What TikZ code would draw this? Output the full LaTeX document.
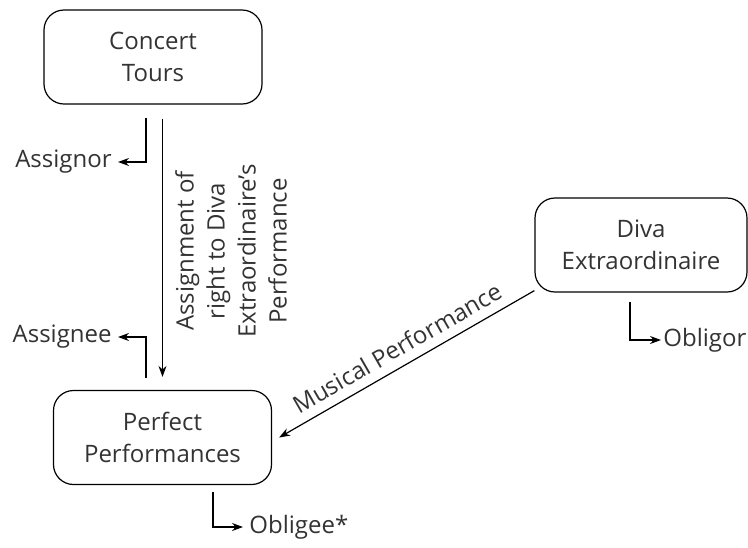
\documentclass[tikz,border=0pt]{standalone}
\usepackage{fontspec}
\setmainfont{Open Sans}
\usetikzlibrary{arrows.meta}
\definecolor{inkgray}{gray}{0.2}

\begin{document}
\begin{tikzpicture}[x=0.5pt, y=-0.5pt,
  party/.style={draw, line width=0.6pt, rounded corners=10pt, minimum width=109pt,
    minimum height=47pt, align=center, text=inkgray, font=\fontsize{12}{16}\selectfont},
  role/.style={text=inkgray, inner ysep=1.5pt, inner xsep=3pt, font=\fontsize{12}{15.5}\selectfont},
  arr/.style={-{Stealth[length=5.5pt,width=4pt]}, line width=0.6pt}]
  \useasboundingbox (0,0) rectangle (748,547);
  % the three parties
  \node[party] (tours) at (153,57) {Concert\\Tours};
  \node[party] (perfect) at (162.5,437.5) {Perfect\\Performances};
  \node[party, minimum width=106pt] (diva) at (641,245) {Diva\\Extraordinaire};
  % assignment
  \draw[arr] ([yshift=-7pt]tours.south -| perfect.north) -- ([yshift=6.5pt]perfect.north);
  \node[role, rotate=90, align=center] (deal) at (231,251)
    {Assignment of\\right to Diva\\Extraordinaire's\\Performance};
  % performance owed
  \draw[arr] ([yshift=1pt]diva.south west) -- ([xshift=3.5pt]perfect.east)
    node[role, midway, above=3pt, sloped] {Musical Performance};
  % roles
  \node[role, anchor=east] (assignor) at (118,162) {Assignor};
  \node[role, anchor=east] (assignee) at (118,337) {Assignee};
  \node[role, anchor=west, inner xsep=1pt] (obligor) at (661,340) {Obligor};
  \node[role, anchor=west] (obligee) at (243,527) {Obligee*};
  \coordinate (assignor-from) at (146,118);
  \coordinate (assignee-from) at (146,378);
  \coordinate (obligor-from) at (630,302);
  \coordinate (obligee-from) at (213,492);
  \draw[arr] (assignor-from) |- (assignor);
  \draw[arr] (assignee-from) |- (assignee);
  \draw[arr] (obligor-from) |- (obligor);
  \draw[arr] (obligee-from) |- (obligee);
\end{tikzpicture}
\end{document}
